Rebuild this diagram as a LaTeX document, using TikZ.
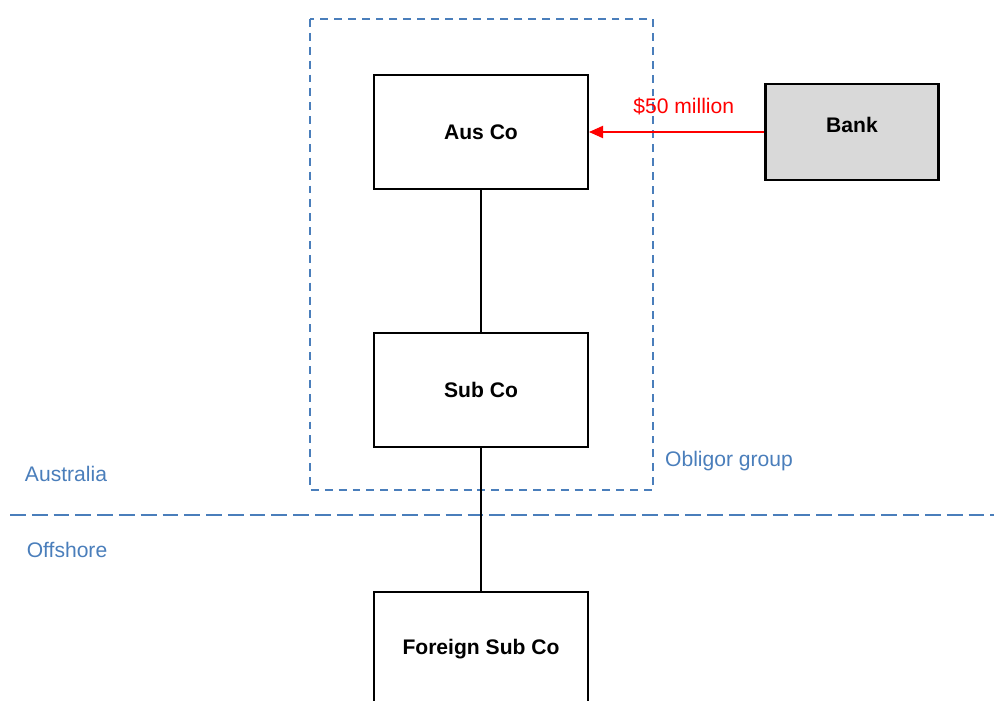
\documentclass[tikz,border=0pt]{standalone}
\usepackage{fontspec}
\setmainfont{Liberation Sans}
\usetikzlibrary{arrows.meta}
\definecolor{regionblue}{HTML}{4A7EBB}
\definecolor{bankgray}{HTML}{D9D9D9}
\tikzset{
	entity/.style={draw=black, line width=1.2pt, minimum width=4.28cm, minimum height=2.28cm,
		font=\fontsize{12}{14}\selectfont\bfseries, inner sep=0pt},
	link/.style={draw=black, line width=0.7pt},
	region/.style={text=regionblue, font=\fontsize{12}{14}\selectfont}
}

\begin{document}
\begin{tikzpicture}[x=0.02cm, y=-0.02cm]
		%%%%% START %%%%%
		
		\useasboundingbox (0, 0) rectangle (994, 700);
		
		\draw[regionblue, line width=0.9pt, dash pattern=on 4.5pt off 3.4pt] (310, 19) rectangle (653, 490);
		\draw[regionblue, line width=1.2pt, dash pattern=on 9pt off 3.4pt] (10, 515) -- (994, 515);
		
		\node[entity] (ausco) at (481, 132) {Aus Co};
		\node[entity] (subco) at (481, 390) {Sub Co};
		\node[entity] (foreignsubco) at (481, 649) {Foreign Sub Co};
		\node[entity, fill=bankgray, minimum width=3.46cm, minimum height=1.92cm, text depth=8pt] (bank) at (852, 132) {Bank};
		
		\draw[link] (ausco) -- (subco);
		\draw[link] (subco) -- (foreignsubco);
		\draw[red, line width=0.7pt, -{Triangle[length=8pt, width=7pt]}] (bank) -- node[pos=0.46, above=6pt, font=\fontsize{12}{14}\selectfont] (amount) {\$50 million} (ausco);
		
		\node[region] (australia) at (66, 474) {Australia};
		\node[region] (offshore) at (67, 550) {Offshore};
		\node[region] (obligor) at (729, 461) {Obligor group};
		
		%%%%% END %%%%%
	\end{tikzpicture}
\end{document}
